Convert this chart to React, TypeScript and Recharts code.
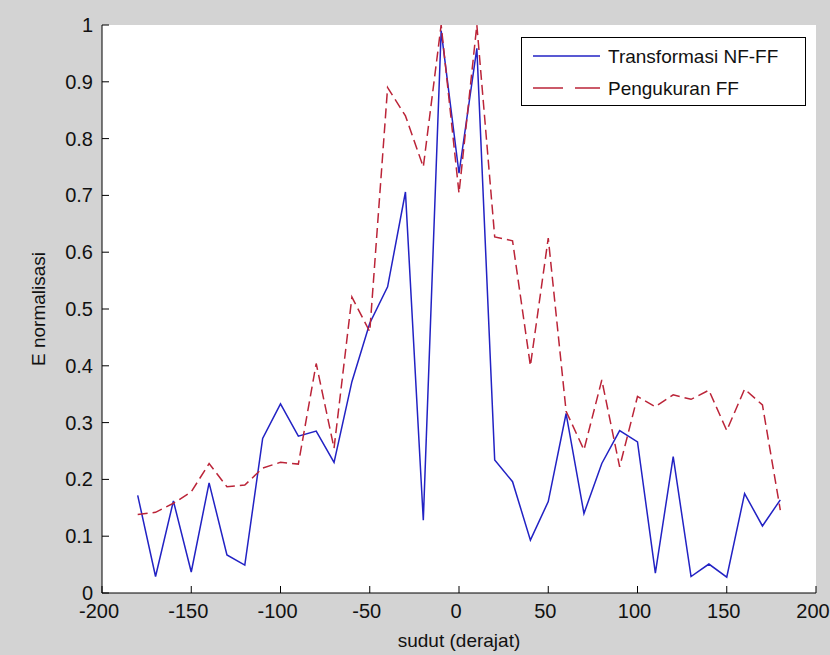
import React from 'react';
import { LineChart, Line, XAxis, YAxis, CartesianGrid } from 'recharts';

const angles = [-180, -170, -160, -150, -140, -130, -120, -110, -100, -90, -80, -70, -60, -50, -40, -30, -20, -10, 0, 10, 20, 30, 40, 50, 60, 70, 80, 90, 100, 110, 120, 130, 140, 150, 160, 170, 180];
const transformasi = [0.172, 0.029, 0.162, 0.037, 0.194, 0.067, 0.049, 0.272, 0.333, 0.276, 0.285, 0.23, 0.372, 0.475, 0.539, 0.706, 0.128, 0.99, 0.739, 0.959, 0.234, 0.196, 0.093, 0.161, 0.316, 0.14, 0.228, 0.286, 0.266, 0.035, 0.24, 0.029, 0.051, 0.028, 0.175, 0.118, 0.164];
const pengukuran = [0.138, 0.142, 0.158, 0.178, 0.228, 0.187, 0.19, 0.22, 0.23, 0.227, 0.404, 0.255, 0.521, 0.46, 0.89, 0.84, 0.75, 1.0, 0.704, 1.0, 0.627, 0.62, 0.4, 0.625, 0.32, 0.252, 0.375, 0.222, 0.346, 0.328, 0.349, 0.341, 0.357, 0.286, 0.359, 0.331, 0.146];
const xTicks = [-200, -150, -100, -50, 0, 50, 100, 150, 200];
const yTicks = [0, 0.1, 0.2, 0.3, 0.4, 0.5, 0.6, 0.7, 0.8, 0.9, 1];
const yTickLabels = ['0', '0.1', '0.2', '0.3', '0.4', '0.5', '0.6', '0.7', '0.8', '0.9', '1'];

const data = angles.map((a, i) => ({ angle: a, nf: transformasi[i], ff: pengukuran[i] }));

const FONT = '"Liberation Sans", Arial, sans-serif';
const BLUE = '#2222c4';
const RED = '#bb2438';
const TICK = 7;

const BottomTick = (props: any) => {
  const { x, y, payload } = props;
  return (
    <g>
      <line x1={x} y1={y} x2={x} y2={y - TICK} stroke="#000" strokeWidth={1} />
      <text x={x - 3} y={y + 18} textAnchor="middle" dominantBaseline="central" fontSize={20} fontFamily={FONT} fill="#111">
        {payload.value}
      </text>
    </g>
  );
};

const TopTick = (props: any) => {
  const { x, y } = props;
  return <line x1={x} y1={y} x2={x} y2={y + TICK} stroke="#000" strokeWidth={1} />;
};

const LeftTick = (props: any) => {
  const { x, y, payload, index } = props;
  const label = yTickLabels[yTicks.indexOf(payload.value)] ?? String(payload.value);
  return (
    <g>
      <line x1={x} y1={y} x2={x + TICK} y2={y} stroke="#000" strokeWidth={1} />
      <text x={x - 9} y={y} textAnchor="end" dominantBaseline="central" fontSize={20} fontFamily={FONT} fill="#111">
        {label}
      </text>
    </g>
  );
};

const RightTick = (props: any) => {
  const { x, y } = props;
  return <line x1={x} y1={y} x2={x - TICK} y2={y} stroke="#000" strokeWidth={1} />;
};

const XLabel = (props: any) => {
  const vb = props.viewBox || {};
  return (
    <text x={vb.x + vb.width / 2} y={vb.y + 47} textAnchor="middle" dominantBaseline="central" fontSize={19} fontFamily={FONT} fill="#111">
      sudut (derajat)
    </text>
  );
};

const YLabel = (props: any) => {
  const vb = props.viewBox || {};
  const cx = vb.x + 38;
  const cy = vb.y + vb.height / 2;
  return (
    <text x={cx} y={cy} transform={`rotate(-90, ${cx}, ${cy})`} textAnchor="middle" dominantBaseline="central" fontSize={19} fontFamily={FONT} fill="#111">
      E normalisasi
    </text>
  );
};

export default function App() {
  return (
    <div style={{ position: 'absolute', left: 0, top: 0, width: 830, height: 655, background: '#d3d3d3', overflow: 'hidden' }}>
      <LineChart width={830} height={655} data={data} margin={{ top: 25, right: 14, bottom: 0, left: 0 }}>
        <CartesianGrid horizontal={false} vertical={false} fill="#ffffff" />
        <XAxis
          xAxisId="bottom"
          dataKey="angle"
          type="number"
          domain={[-200, 200]}
          ticks={xTicks}
          interval={0}
          height={62}
          tickSize={0}
          tickMargin={0}
          tickLine={false}
          axisLine={{ stroke: '#000', strokeWidth: 1 }}
          tick={<BottomTick />}
          label={<XLabel />}
        />
        <XAxis
          xAxisId="top"
          orientation="top"
          dataKey="angle"
          type="number"
          domain={[-200, 200]}
          ticks={xTicks}
          interval={0}
          height={0}
          tickSize={0}
          tickMargin={0}
          tickLine={false}
          axisLine={{ stroke: '#000', strokeWidth: 1 }}
          tick={<TopTick />}
        />
        <YAxis
          yAxisId="left"
          type="number"
          domain={[0, 1]}
          ticks={yTicks}
          interval={0}
          width={102}
          tickSize={0}
          tickMargin={0}
          tickLine={false}
          axisLine={{ stroke: '#000', strokeWidth: 1 }}
          tick={<LeftTick />}
          label={<YLabel />}
          allowDataOverflow
        />
        <YAxis
          yAxisId="right"
          orientation="right"
          type="number"
          domain={[0, 1]}
          ticks={yTicks}
          interval={0}
          width={0}
          tickSize={0}
          tickMargin={0}
          tickLine={false}
          axisLine={{ stroke: '#000', strokeWidth: 1 }}
          tick={<RightTick />}
          allowDataOverflow
        />
        <Line
          xAxisId="bottom"
          yAxisId="left"
          type="linear"
          dataKey="nf"
          stroke={BLUE}
          strokeWidth={1.5}
          dot={false}
          activeDot={false}
          isAnimationActive={false}
        />
        <Line
          xAxisId="top"
          yAxisId="right"
          type="linear"
          dataKey="ff"
          stroke={RED}
          strokeWidth={1.5}
          strokeDasharray="10 5"
          dot={false}
          activeDot={false}
          isAnimationActive={false}
        />
      </LineChart>
      <div
        style={{
          position: 'absolute',
          left: 521,
          top: 37,
          width: 285,
          height: 69,
          background: '#fff',
          border: '1px solid #000',
          boxSizing: 'border-box',
          fontFamily: FONT,
          fontSize: 19,
          color: '#111',
        }}
      >
        <svg width={283} height={67} style={{ position: 'absolute', left: 0, top: 0 }}>
          <line x1={11} y1={18} x2={78} y2={18} stroke={BLUE} strokeWidth={1.5} />
          <line x1={11} y1={50} x2={78} y2={50} stroke={RED} strokeWidth={1.5} strokeDasharray="30 12" />
          <text x={86} y={18} dominantBaseline="central" fontSize={19} fontFamily={FONT} fill="#111">Transformasi NF-FF</text>
          <text x={86} y={50} dominantBaseline="central" fontSize={19} fontFamily={FONT} fill="#111">Pengukuran FF</text>
        </svg>
      </div>
    </div>
  );
}
